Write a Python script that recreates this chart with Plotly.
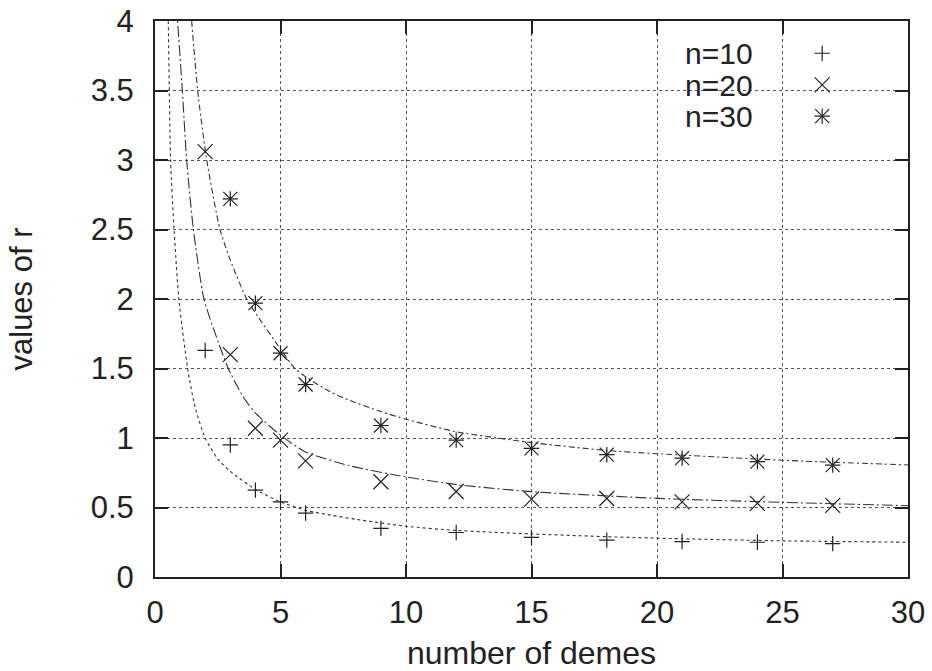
import plotly.graph_objects as go

# ---------------- data ----------------
demes_10 = [2, 3, 4, 5, 6, 9, 12, 15, 18, 21, 24, 27]
r_10 = [1.63, 0.95, 0.625, 0.54, 0.46, 0.35, 0.32, 0.285, 0.265, 0.255, 0.25, 0.24]

demes_20 = [2, 3, 4, 5, 6, 9, 12, 15, 18, 21, 24, 27]
r_20 = [3.06, 1.6, 1.07, 0.985, 0.835, 0.685, 0.615, 0.56, 0.565, 0.54, 0.53, 0.515]

demes_30 = [3, 4, 5, 6, 9, 12, 15, 18, 21, 24, 27]
r_30 = [2.72, 1.97, 1.61, 1.385, 1.09, 0.985, 0.925, 0.88, 0.855, 0.83, 0.805]

# fitted curves
fit10_x = [0.50, 0.53, 0.62, 0.76, 0.95, 1.3, 1.6, 2.0, 2.5, 3.0, 4.0, 5.0, 6.0, 7.0, 8.0, 10, 12, 15, 18, 21, 25, 30]
fit10_y = [4.3, 4.0, 3.0, 2.5, 2.0, 1.5, 1.22, 1.0, 0.85, 0.76, 0.63, 0.54, 0.48, 0.445, 0.415, 0.365, 0.335, 0.31, 0.29, 0.275, 0.26, 0.25]

fit20_x = [0.87, 0.90, 1.09, 1.26, 1.53, 1.95, 2.5, 2.92, 3.5, 4.0, 5.0, 6.0, 7.76, 10, 12, 15, 20, 25, 30]
fit20_y = [4.1, 4.0, 3.5, 3.0, 2.5, 2.0, 1.70, 1.5, 1.30, 1.18, 1.02, 0.90, 0.80, 0.72, 0.665, 0.614, 0.566, 0.537, 0.513]

fit30_x = [1.42, 1.46, 1.70, 2.06, 2.59, 3.0, 3.65, 4.0, 5.0, 5.57, 6.0, 7.0, 7.76, 9.0, 10, 12, 15, 18, 20, 25, 30]
fit30_y = [4.1, 4.0, 3.5, 3.0, 2.5, 2.28, 2.0, 1.9, 1.64, 1.5, 1.44, 1.33, 1.27, 1.19, 1.135, 1.045, 0.967, 0.91, 0.887, 0.84, 0.806]

legend_labels = ["n=10", "n=20", "n=30"]
x_ticks = [0, 5, 10, 15, 20, 25, 30]
y_ticks = [0, 0.5, 1, 1.5, 2, 2.5, 3, 3.5, 4]
y_tick_text = ["0", "0.5", "1", "1.5", "2", "2.5", "3", "3.5", "4"]

# ---------------- styling ----------------
INK = "#222222"
FONT = "Liberation Sans, Arial, Helvetica, sans-serif"
FS = 31
MW = 1.2

fig = go.Figure()

line_styles = [
    (fit10_x, fit10_y, "dot"),
    (fit20_x, fit20_y, "11px,3px,2px,3px"),
    (fit30_x, fit30_y, "6px,3px,2px,3px"),
]
for fx, fy, dash in line_styles:
    fig.add_trace(go.Scatter(x=fx, y=fy, mode="lines",
                             line=dict(color="#333333", width=1.1, dash=dash, shape="spline", smoothing=0.6),
                             showlegend=False, hoverinfo="skip"))

def mk(symbol, size):
    return dict(symbol=symbol, size=size, color=INK, line=dict(color=INK, width=MW))

fig.add_trace(go.Scatter(x=demes_10, y=r_10, mode="markers", marker=mk("cross-thin-open", 11), showlegend=False))
fig.add_trace(go.Scatter(x=demes_20, y=r_20, mode="markers", marker=mk("x-thin-open", 15), showlegend=False))
fig.add_trace(go.Scatter(x=demes_30, y=r_30, mode="markers", marker=mk("cross-thin-open", 11), showlegend=False))
fig.add_trace(go.Scatter(x=demes_30, y=r_30, mode="markers", marker=mk("x-thin-open", 14), showlegend=False))

# ---------------- manual key (text right-justified, symbol after it, like gnuplot) ----------------
key_rows = [0.942, 0.885, 0.829]
key_sym_x = 0.886
key_txt_x = 0.797
key_symbols = [[("cross-thin-open", 11)], [("x-thin-open", 15)], [("cross-thin-open", 11), ("x-thin-open", 14)]]
for row, syms in zip(key_rows, key_symbols):
    for s, sz in syms:
        fig.add_trace(go.Scatter(x=[key_sym_x], y=[row], xaxis="x2", yaxis="y2", mode="markers",
                                 marker=mk(s, sz), showlegend=False, hoverinfo="skip"))
for row, label in zip(key_rows, legend_labels):
    fig.add_annotation(x=key_txt_x, y=row, xref="paper", yref="paper", text=label,
                       showarrow=False, xanchor="right", yanchor="middle", height=26,
                       font=dict(family=FONT, size=FS - 1, color=INK))

fig.add_shape(type="rect", xref="paper", yref="paper", x0=0.693, x1=0.972, y0=0.804, y1=0.975,
              fillcolor="white", line=dict(width=0), layer="between")

axis_common = dict(
    showline=True, linecolor=INK, linewidth=2, mirror="ticks",
    ticks="inside", ticklen=13, tickwidth=2, tickcolor=INK,
    showgrid=True, gridcolor="#555555", gridwidth=1, griddash="dot",
    zeroline=False, automargin=False, ticklabeloverflow="allow",
    tickfont=dict(family=FONT, size=FS, color=INK),
)

fig.update_layout(
    width=932, height=671,
    margin=dict(l=155, r=24, t=21, b=94),
    paper_bgcolor="white", plot_bgcolor="white",
    font=dict(family=FONT, size=FS, color=INK),
    xaxis=dict(range=[0, 30], tickvals=x_ticks, ticktext=[str(v) for v in x_ticks],
               title=dict(text="number of demes", font=dict(family=FONT, size=FS + 1, color=INK), standoff=16),
               ticklabelstandoff=7, **axis_common),
    yaxis=dict(range=[0, 4], tickvals=y_ticks, ticktext=y_tick_text,
               title=dict(text="values of r", font=dict(family=FONT, size=FS, color=INK), standoff=49),
               ticklabelstandoff=13, **axis_common),
    xaxis2=dict(overlaying="x", range=[0, 1], visible=False, fixedrange=True),
    yaxis2=dict(overlaying="y", range=[0, 1], visible=False, fixedrange=True),
    showlegend=False,
)

fig.write_html("out.html", config={"displayModeBar": False},
               post_script="document.body.style.margin='0';")
